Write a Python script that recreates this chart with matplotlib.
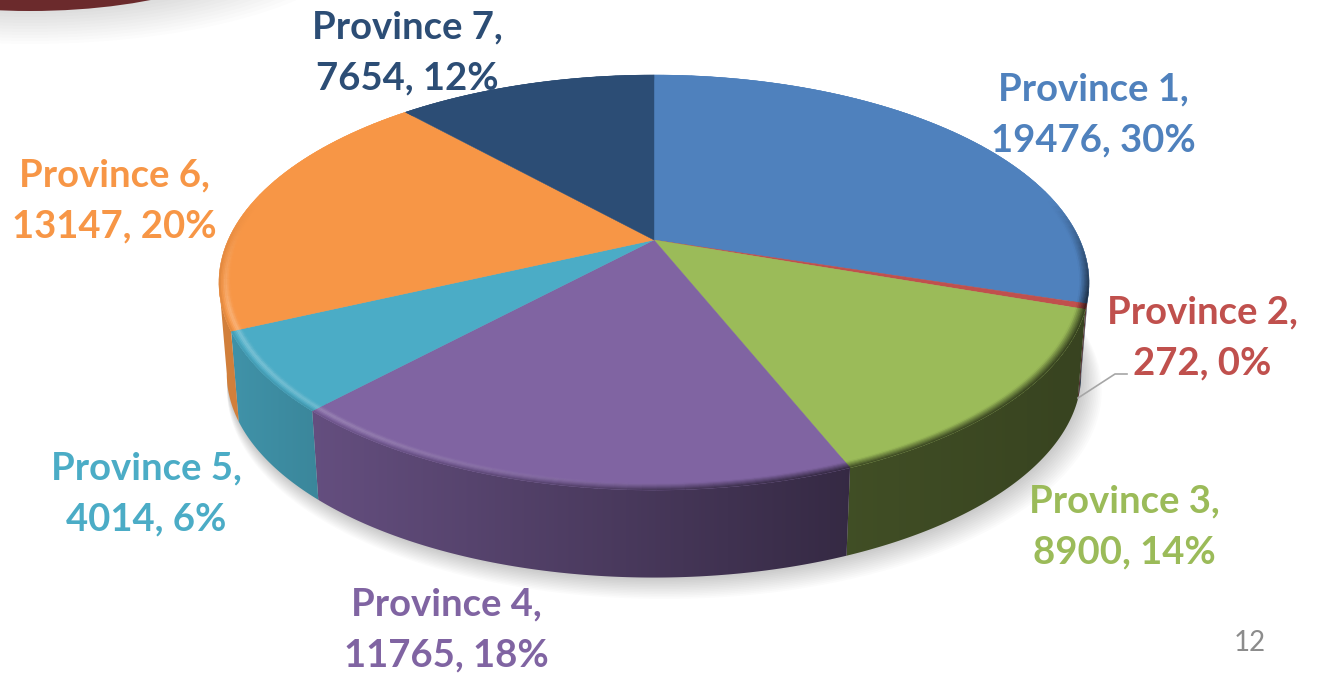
import numpy as np
import matplotlib
matplotlib.use('Agg')
import matplotlib.pyplot as plt
from matplotlib.collections import PolyCollection
from matplotlib.colors import to_rgb
from matplotlib.patches import Ellipse, Polygon

provinces = ['Province 1', 'Province 2', 'Province 3', 'Province 4', 'Province 5', 'Province 6', 'Province 7']
values = [19476, 272, 8900, 11765, 4014, 13147, 7654]
colors = ['#4F81BD', '#C0504D', '#9BBB59', '#8064A2', '#4BACC6', '#F79646', '#2C4D75']
label_x = [1093, 1202, 1124, 446, 146, 114, 407]
label_y = [114, 337, 526, 629, 493, 200, 52]

plt.rcParams['font.family'] = ['Lato', 'DejaVu Sans']

fig = plt.figure(figsize=(13.19, 6.73), dpi=100)
ax = fig.add_axes([0, 0, 1, 1])
ax.axis('off')

# pie is a circle seen in perspective
cx, cy = 654, 240
k, A, B = 0.205, 198.8, 425.8
depth, shrink = 92, 0.982


def project(theta, r=1.0, s=1.0, dy=0.0):
    x = r * np.sin(theta)
    y = r * np.cos(theta)
    w = 1 + k * y
    return cx + s * B * x / w, cy - s * A * y / w + dy


def side_shade(x):
    return np.interp(x, [232, 320, 845, 1085], [0.85, 0.78, 0.42, 0.36])


# slide decoration in the corner
for i in range(12):
    ax.add_patch(Ellipse((30, -70), 500 + i * 16, 162 + i * 6, color='black', alpha=0.012, lw=0))
ax.add_patch(Ellipse((30, -70), 480, 162, color='#6B2A2C', lw=0))

fractions = np.array(values) / sum(values)
edges = np.concatenate([[0], np.cumsum(fractions)]) * 2 * np.pi
percents = np.round(fractions * 100).astype(int)

# soft shadow under the pie
t = np.linspace(0, 2 * np.pi, 300)
for i in range(14):
    sx, sy = project(t, s=shrink + 0.0018 * i, dy=depth + 1.2 * i)
    ax.fill(sx + 0.8 * i, sy, color='black', alpha=0.014, lw=0, zorder=1)

# sides, a horizontal gradient clipped to the visible front part of each slice
grad_x = np.linspace(200, 1100, 450)
front_start = np.arccos(-k)
front_end = 2 * np.pi - front_start
for i in range(len(values)):
    a0 = max(edges[i], front_start)
    a1 = min(edges[i + 1], front_end)
    if a1 <= a0:
        continue
    a = np.linspace(a0, a1, 200)
    tx, ty = project(a)
    bx, by = project(a, s=shrink, dy=depth)
    outline = np.c_[np.r_[tx, bx[::-1]], np.r_[ty, by[::-1]]]
    patch = Polygon(outline, closed=True, transform=ax.transData, fc='none', lw=0)
    ax.add_patch(patch)
    img = np.array(to_rgb(colors[i]))[None, None, :] * side_shade(grad_x)[None, :, None]
    im = ax.imshow(img, extent=(200, 1100, 673, 0), aspect='auto', zorder=2, interpolation='bilinear')
    im.set_clip_path(patch)

# top faces
for i in range(len(values)):
    a = np.linspace(edges[i], edges[i + 1], max(3, int(fractions[i] * 400)))
    px, py = project(a)
    ax.fill(np.r_[cx, px], np.r_[cy, py], color=colors[i], lw=0.3, zorder=3)

# bevel between top and side, only on the front of the pie
rings = np.linspace(0.965, 1.0, 11)
for i in range(len(values)):
    a = np.linspace(edges[i], edges[i + 1], max(3, int(fractions[i] * 240)))
    face = np.array(to_rgb(colors[i]))
    polys, cols = [], []
    for a0, a1 in zip(a[:-1], a[1:]):
        mid = (a0 + a1) / 2
        xm, _ = project(mid)
        edge = face * side_shade(xm)
        front = np.clip((0.2 - np.cos(mid)) / 0.5, 0, 1)
        glow = np.clip(1 - (xm - 240) / 480, 0, 1) * np.clip(0.2 - 2.5 * np.cos(mid), 0, 1)
        for j in range(len(rings) - 1):
            u = j / (len(rings) - 2)
            c = face + (1 - face) * 0.25 * glow * np.exp(-((u - 0.6) / 0.2) ** 2)
            m = np.clip((u - 0.4) / 0.6, 0, 1) * (1 - glow) * front + np.clip((u - 0.85) / 0.15, 0, 1) * glow * 0.5
            c = c * (1 - m) + edge * m
            r0, r1 = rings[j], rings[j + 1]
            x0, y0 = project(a0, r0)
            x1, y1 = project(a1, r0)
            x2, y2 = project(a1, r1)
            x3, y3 = project(a0, r1)
            polys.append([(x0, y0), (x1, y1), (x2, y2), (x3, y3)])
            cols.append(c)
    ax.add_collection(PolyCollection(polys, facecolors=cols, edgecolors=cols, linewidths=0.3, zorder=4))

# leader line for the small slice
ax.plot([1078, 1115, 1127], [398, 374, 374], color='#A6A6A6', lw=1.2, zorder=5)

for i in range(len(values)):
    ax.text(label_x[i], label_y[i] + 1, f'{provinces[i]},\n{values[i]}, {percents[i]}%',
            color=colors[i], fontsize=27.5, fontweight='bold',
            ha='center', va='center', linespacing=1.62, zorder=6)

ax.text(1250, 643, '12', color='#8C8C8C', fontsize=20, ha='center', va='center', zorder=6)

ax.set_xlim(0, 1319)
ax.set_ylim(673, 0)
fig.savefig('out.png', dpi=100)
